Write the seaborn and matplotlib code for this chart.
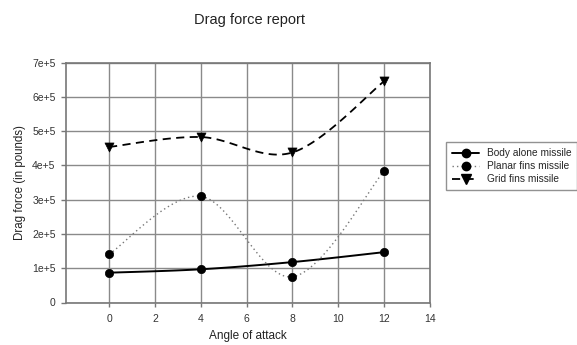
import numpy as np
import pandas as pd
import matplotlib
matplotlib.use("Agg")
import matplotlib.pyplot as plt
from matplotlib.lines import Line2D
import seaborn as sns

angles = [0, 4, 8, 12]
body_alone = [87000, 97000, 118000, 147000]
planar_fins = [141000, 310000, 75000, 384000]
grid_fins = [454000, 483000, 438000, 646000]
series_names = ["Body alone missile", "Planar fins missile", "Grid fins missile"]
x_ticks = [0, 2, 4, 6, 8, 10, 12, 14]
y_ticks = [0, 100000, 200000, 300000, 400000, 500000, 600000, 700000]
y_tick_labels = ["0", "1e+5", "2e+5", "3e+5", "4e+5", "5e+5", "6e+5", "7e+5"]

sns.set_style("white")
plt.rcParams["font.family"] = ["Liberation Sans", "DejaVu Sans"]


def smooth(xs, ys, n=40):
    """Bezier smoothing (Catmull-Rom style) through the data points."""
    xs = np.asarray(xs, float)
    ys = np.asarray(ys, float)
    px = np.concatenate([[xs[0]], xs, [xs[-1]]])
    py = np.concatenate([[ys[0]], ys, [ys[-1]]])
    outx, outy = [], []
    for i in range(1, len(px) - 2):
        p0 = np.array([px[i], py[i]])
        p3 = np.array([px[i + 1], py[i + 1]])
        c1 = p0 + (np.array([px[i + 1], py[i + 1]]) - np.array([px[i - 1], py[i - 1]])) / 6
        c2 = p3 - (np.array([px[i + 2], py[i + 2]]) - np.array([px[i], py[i]])) / 6
        t = np.linspace(0, 1, n)[:, None]
        pts = ((1 - t) ** 3) * p0 + 3 * ((1 - t) ** 2) * t * c1 + 3 * (1 - t) * t ** 2 * c2 + t ** 3 * p3
        outx.extend(pts[:, 0])
        outy.extend(pts[:, 1])
    return outx, outy


fig = plt.figure(figsize=(5.77, 3.45), dpi=100)
ax = fig.add_axes([66 / 577, 1 - 302.5 / 345, (430 - 66) / 577, (302.5 - 62.7) / 345])

styles = [
    dict(ls="-", lw=1.4, color="black", marker="o", ms=6, mcolor="black"),
    dict(ls=(0, (1, 2.2)), lw=1.0, color="#777777", marker="o", ms=6, mcolor="black"),
    dict(ls=(0, (4.5, 3)), lw=1.3, color="black", marker="v", ms=6.5, mcolor="black"),
]
handles = []
for name, vals, st in zip(series_names, [body_alone, planar_fins, grid_fins], styles):
    sx, sy = smooth(angles, vals)
    df_line = pd.DataFrame({"x": sx, "y": sy})
    sns.lineplot(data=df_line, x="x", y="y", ax=ax, color=st["color"], lw=st["lw"],
                 linestyle=st["ls"], sort=False, estimator=None, zorder=3)
    df_pts = pd.DataFrame({"x": angles, "y": vals})
    sns.scatterplot(data=df_pts, x="x", y="y", ax=ax, marker=st["marker"], s=st["ms"] ** 2,
                    color=st["mcolor"], edgecolor=st["mcolor"], linewidth=0.5, zorder=4)
    handles.append(Line2D([0], [0], color=st["color"], lw=st["lw"], linestyle=st["ls"],
                          marker=st["marker"], markersize=st["ms"], markerfacecolor="black",
                          markeredgecolor="black"))

ax.set_xlim(-1.88, 14)
ax.set_ylim(0, 700000)
ax.set_xticks(x_ticks)
ax.set_xticklabels([str(t) for t in x_ticks], fontsize=7.5, color="#333333")
ax.set_yticks(y_ticks)
ax.set_yticklabels(y_tick_labels, fontsize=7.5, color="#333333")
ax.grid(True, color="#8a8a8a", lw=1.0)
ax.set_axisbelow(True)
for s in ax.spines.values():
    s.set_color("#777777")
    s.set_linewidth(1.2)
ax.tick_params(axis="y", length=3.5, color="#777777", pad=4, width=1.0, left=True)
ax.tick_params(axis="x", length=3, color="#777777", pad=5, width=1.0, bottom=True)

ax.set_xlabel("Angle of attack", fontsize=8.5, color="#222222")
ax.xaxis.set_label_coords(0.5, (302.5 - 336.5) / 239.8)
ax.xaxis.label.set_va("center")
ax.set_ylabel("Drag force (in pounds)", fontsize=8.3, color="#222222")
ax.yaxis.set_label_coords((20 - 66) / 364, 0.5)
ax.yaxis.label.set_va("center")
fig.text(249 / 577, 1 - 20 / 345, "Drag force report", ha="center", va="center",
         fontsize=10.5, color="#222222")

leg = fig.legend(handles, series_names, loc="upper left", bbox_to_anchor=(446 / 577, 1 - 142 / 345),
                 frameon=True, fontsize=7.3, handlelength=2.7, handletextpad=0.7,
                 borderpad=0.6, labelspacing=0.3, borderaxespad=0, fancybox=False,
                 edgecolor="#777777")
leg.get_frame().set_linewidth(1.0)

fig.savefig("out.png", dpi=100)
